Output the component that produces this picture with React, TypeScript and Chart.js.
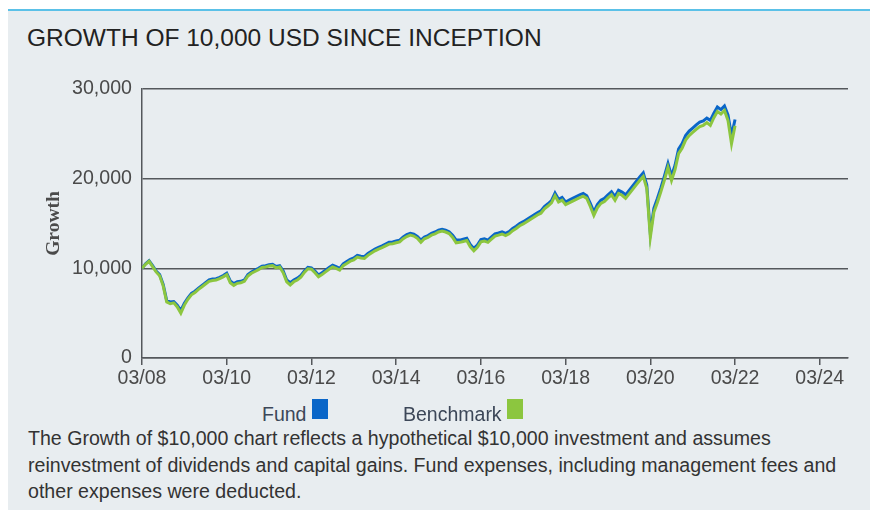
import React, { useEffect, useRef } from "react";
import { Chart, registerables } from "chart.js";

Chart.register(...registerables);

const title = "GROWTH OF 10,000 USD SINCE INCEPTION";
const yAxisTitle = "Growth";
const seriesNames = ["Fund", "Benchmark"];

// x positions are months since 03/08 (inception)
const xTickValues = [0, 24, 48, 72, 96, 120, 144, 168, 192];
const xTickLabels = ["03/08", "03/10", "03/12", "03/14", "03/16", "03/18", "03/20", "03/22", "03/24"];
const xMin = 0;
const xMax = 200;
const yTickValues = [0, 10000, 20000, 30000];

// monthly values, 03/08 .. 03/22
const fund = [
  10000, 10500, 10850, 10300, 9700, 9300, 8200, 6400, 6250, 6300,
  5900, 5300, 6100, 6700, 7200, 7450, 7800, 8100, 8400, 8700,
  8800, 8850, 9000, 9200, 9450, 8600, 8300, 8500, 8550, 8700,
  9300, 9600, 9800, 10000, 10250, 10300, 10400, 10450, 10200, 10300,
  9700, 8700, 8400, 8700, 8900, 9200, 9700, 10100, 10050, 9700,
  9250, 9500, 9800, 10100, 10350, 10200, 10000, 10500, 10750, 11000,
  11150, 11450, 11350, 11300, 11650, 11900, 12150, 12350, 12500, 12700,
  12900, 12950, 13050, 13150, 13500, 13750, 13900, 13800, 13550, 13150,
  13500, 13650, 13900, 14050, 14250, 14350, 14250, 14080, 13700, 13150,
  13150, 13250, 13350, 12650, 12220, 12600, 13200, 13300, 13150, 13500,
  13850, 13950, 14080, 13900, 14100, 14450, 14700, 15000, 15200, 15450,
  15700, 15940, 16200, 16400, 16900, 17200, 17550, 18400, 17700, 17900,
  17400, 17600, 17800, 18000, 18180, 18350, 18100, 17250, 16300, 17100,
  17600, 17800, 18200, 18550, 18000, 18700, 18500, 18200, 18700, 19200,
  19700, 20200, 20650, 19300, 13900, 16700, 17800, 19000, 20300, 21700,
  20300, 21500, 23300, 23900, 24800, 25300, 25650, 26000, 26300, 26450,
  26750, 26500, 27300, 28000, 27700, 28100, 27100, 24800, 26600,
];

const benchmark = [
  10000, 10450, 10780, 10200, 9600, 9180, 8050, 6250, 6050, 6150,
  5700, 5000, 5900, 6550, 7050, 7300, 7650, 7950, 8250, 8550,
  8650, 8700, 8850, 9050, 9300, 8400, 8100, 8330, 8400, 8550,
  9150, 9450, 9650, 9850, 10100, 10150, 10250, 10300, 10050, 10150,
  9500, 8500, 8150, 8500, 8700, 9000, 9550, 9950, 9900, 9500,
  9050, 9300, 9600, 9900, 10150, 10000, 9800, 10300, 10550, 10800,
  10950, 11250, 11150, 11100, 11450, 11700, 11950, 12150, 12300, 12500,
  12700, 12750, 12850, 12950, 13300, 13550, 13700, 13600, 13350, 12900,
  13300, 13450, 13700, 13850, 14050, 14150, 14050, 13880, 13450, 12850,
  12900, 13000, 13100, 12400, 11950, 12350, 12950, 13050, 12900, 13250,
  13600, 13700, 13830, 13650, 13850, 14200, 14450, 14750, 14950, 15200,
  15450, 15690, 15950, 16150, 16650, 16950, 17300, 18100, 17400, 17600,
  17100, 17300, 17500, 17700, 17880, 18050, 17800, 16900, 15900, 16750,
  17250, 17450, 17850, 18200, 17600, 18350, 18150, 17800, 18300, 18800,
  19300, 19800, 20250, 18900, 13450, 16250, 17350, 18550, 19850, 21250,
  19800, 21000, 22800, 23400, 24300, 24800, 25150, 25500, 25800, 25950,
  26250, 25950, 26800, 27500, 27200, 27600, 26500, 23900, 25900,
];

const footnoteLines = [
  "The Growth of $10,000 chart reflects a hypothetical $10,000 investment and assumes",
  "reinvestment of dividends and capital gains. Fund expenses, including management fees and",
  "other expenses were deducted.",
];

const FUND_COLOR = "#0a66c8";
const BENCH_COLOR = "#8cc63f";
const AXIS_COLOR = "#54585c";
const SANS = "'Liberation Sans', Arial, sans-serif";

export default function App() {
  const ref = useRef<HTMLCanvasElement>(null);

  useEffect(() => {
    const canvas = ref.current;
    if (!canvas) return;
    const chart = new Chart(canvas, {
      type: "line",
      data: {
        datasets: [
          {
            label: seriesNames[1],
            data: benchmark.map((y, i) => ({ x: i, y })),
            borderColor: BENCH_COLOR,
            backgroundColor: BENCH_COLOR,
            borderWidth: 3,
            pointRadius: 0,
            tension: 0,
            order: 0,
          },
          {
            label: seriesNames[0],
            data: fund.map((y, i) => ({ x: i, y })),
            borderColor: FUND_COLOR,
            backgroundColor: FUND_COLOR,
            borderWidth: 3,
            pointRadius: 0,
            tension: 0,
            order: 1,
          },
        ],
      },
      options: {
        animation: false,
        responsive: false,
        events: [],
        layout: { padding: { top: 89, right: 22, left: 0, bottom: 0 } },
        plugins: { legend: { display: false }, tooltip: { enabled: false } },
        scales: {
          x: {
            type: "linear",
            min: xMin,
            max: xMax,
            afterBuildTicks: (s: any) => {
              s.ticks = xTickValues.map((v) => ({ value: v }));
            },
            afterFit: (s: any) => {
              s.height = 42;
            },
            ticks: {
              callback: (_v: any, i: number) => xTickLabels[i] ?? "",
              color: "#4a4a4a",
              font: { family: SANS, size: 19.5 },
              padding: 2,
              maxRotation: 0,
              autoSkip: false,
            },
            grid: {
              drawOnChartArea: false,
              drawTicks: true,
              tickLength: 7,
              color: AXIS_COLOR,
              lineWidth: 1.5,
            },
            border: { color: AXIS_COLOR, width: 1.5 },
          },
          y: {
            min: 0,
            max: 30000,
            afterBuildTicks: (s: any) => {
              s.ticks = yTickValues.map((v) => ({ value: v }));
            },
            afterFit: (s: any) => {
              s.width = 142;
            },
            ticks: {
              callback: (v: any) => Number(v).toLocaleString("en-US"),
              color: "#4a4a4a",
              font: { family: SANS, size: 19.6 },
              padding: 10,
            },
            grid: { drawTicks: false, color: AXIS_COLOR, lineWidth: 1.5 },
            border: { color: AXIS_COLOR, width: 1.5 },
            title: {
              display: true,
              text: yAxisTitle,
              color: "#4a4a4a",
              font: { family: "'Liberation Serif', 'Times New Roman', serif", size: 19.5, weight: "bold" },
              padding: { top: 42, bottom: 0 },
            },
          },
        },
      },
    } as any);
    return () => chart.destroy();
  }, []);

  const legendText: React.CSSProperties = {
    position: "absolute",
    top: 404,
    fontSize: 19.5,
    lineHeight: "20px",
    color: "#3c4758",
    whiteSpace: "nowrap",
  };

  return (
    <div
      style={{
        position: "fixed",
        left: 0,
        top: 0,
        width: 870,
        height: 510,
        background: "#ffffff",
        overflow: "hidden",
        fontFamily: SANS,
      }}
    >
      <div style={{ position: "absolute", left: 8, top: 9, right: 0, height: 2, background: "#5bc1e8" }} />
      <div style={{ position: "absolute", left: 8, top: 11, right: 0, bottom: 0, background: "#e8edf0" }} />
      <div
        style={{
          position: "absolute",
          left: 27,
          top: 23,
          fontSize: 24.5,
          lineHeight: "30px",
          color: "#222222",
          whiteSpace: "nowrap",
        }}
      >
        {title}
      </div>
      <canvas
        ref={ref}
        width={870}
        height={400}
        style={{ position: "absolute", left: 0, top: 0, width: 870, height: 400 }}
      />
      <div style={{ ...legendText, left: 262 }}>{seriesNames[0]}</div>
      <div style={{ position: "absolute", left: 312, top: 399, width: 16, height: 20, background: FUND_COLOR }} />
      <div style={{ ...legendText, left: 403 }}>{seriesNames[1]}</div>
      <div style={{ position: "absolute", left: 507, top: 399, width: 16, height: 20, background: BENCH_COLOR }} />
      <div
        style={{
          position: "absolute",
          left: 28,
          top: 425,
          fontSize: 19.6,
          lineHeight: "26.5px",
          color: "#333333",
          whiteSpace: "nowrap",
        }}
      >
        {footnoteLines.map((l, i) => (
          <div key={i}>{l}</div>
        ))}
      </div>
    </div>
  );
}
